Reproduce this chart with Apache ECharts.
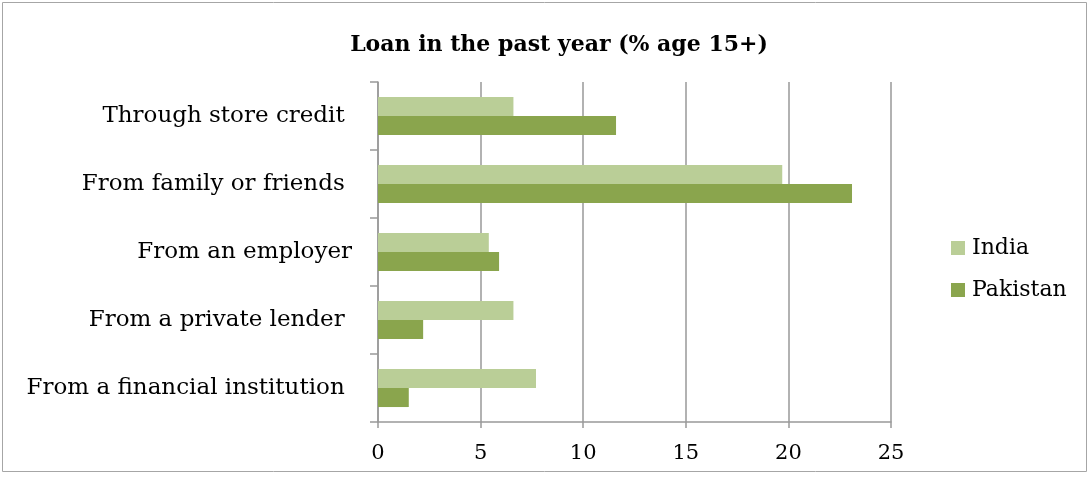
<!DOCTYPE html>
<html>
<head>
<meta charset="utf-8">
<script src="https://cdn.jsdelivr.net/npm/echarts@6/dist/echarts.min.js"></script>
<style>
html,body{margin:0;padding:0;background:#fff;}
#chart{width:1090px;height:478px;}
</style>
</head>
<body>
<div id="chart"></div>
<script>
const categories = ["Through store credit ", "From family or friends ", "From an employer", "From a private lender ", "From a financial institution "];
const seriesNames = ["India", "Pakistan"];
const india = [6.6, 19.7, 5.4, 6.6, 7.7];
const pakistan = [11.6, 23.1, 5.9, 2.2, 1.5];
const xTicks = [0, 5, 10, 15, 20, 25];

const fontFam = "DejaVu Serif";
const chart = echarts.init(document.getElementById('chart'));
chart.setOption({
  animation: false,
  backgroundColor: '#fff',
  title: {
    text: 'Loan in the past year (% age 15+)',
    left: 554, top: 29, textAlign: 'center',
    textStyle: {fontFamily: fontFam, fontWeight: 'bold', fontSize: 22, color: '#000'}
  },
  graphic: [{
    type: 'rect', shape: {x: 2.5, y: 2.5, width: 1084, height: 469},
    style: {fill: 'none', stroke: '#a6a6a6', lineWidth: 1}, silent: true
  }],
  legend: {
    orient: 'vertical', left: 946, top: 232, itemGap: 20,
    itemWidth: 14, itemHeight: 14, icon: 'rect',
    data: seriesNames,
    textStyle: {fontFamily: fontFam, fontSize: 22, color: '#000', padding: [0,0,0,2]}
  },
  grid: {left: 378, top: 82, width: 513, height: 340, containLabel: false},
  xAxis: {
    type: 'value', min: xTicks[0], max: xTicks[xTicks.length-1], interval: 5,
    axisLine: {show: true, lineStyle: {color: '#999', width: 1.5}},
    axisTick: {show: true, length: 6, lineStyle: {color: '#999', width: 1.5}},
    splitLine: {show: true, lineStyle: {color: '#999', width: 1.5}},
    axisLabel: {fontFamily: fontFam, fontSize: 21, color: '#000', margin: 21}
  },
  yAxis: {
    type: 'category', inverse: true, data: categories,
    axisLine: {show: true, lineStyle: {color: '#999', width: 1.5}},
    axisTick: {show: true, length: 8, lineStyle: {color: '#999', width: 1.5}},
    axisLabel: {fontFamily: fontFam, fontSize: 23, color: '#000', margin: 26}
  },
  series: [
    {name: seriesNames[0], type: 'bar', data: india, barGap: '0%', barCategoryGap: '44%',
     itemStyle: {color: '#BACE97'}},
    {name: seriesNames[1], type: 'bar', data: pakistan, barGap: '0%', barCategoryGap: '44%',
     itemStyle: {color: '#8AA54D'}}
  ]
});
</script>
</body>
</html>
